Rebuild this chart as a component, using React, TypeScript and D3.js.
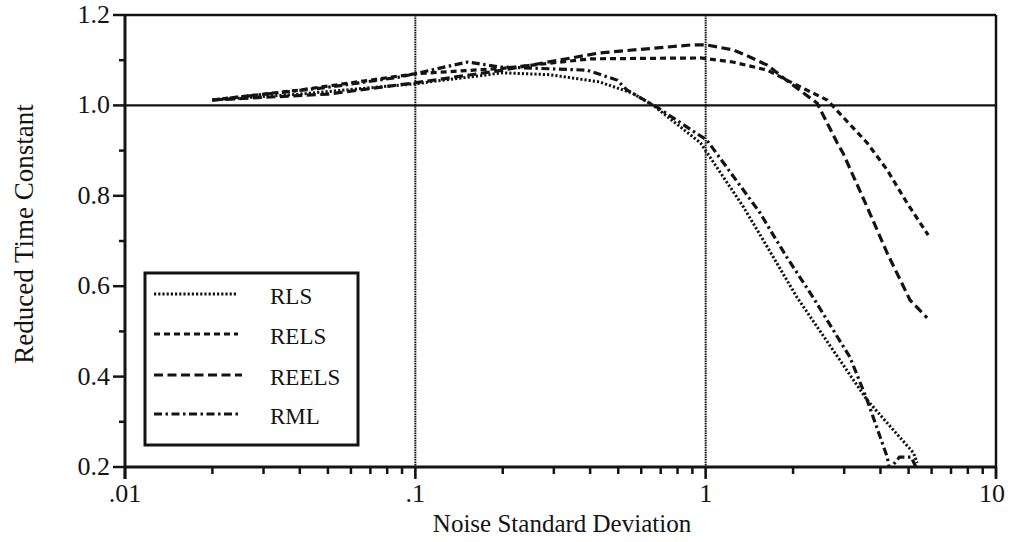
import React from "react";
import * as d3 from "d3";

const seriesNames = ["RLS", "RELS", "REELS", "RML"];

const rlsData: [number, number][] = [
  [0.02, 1.012], [0.04, 1.025], [0.1, 1.048], [0.15, 1.062], [0.2, 1.072],
  [0.29, 1.068], [0.43, 1.052], [0.56, 1.027], [0.66, 1.0], [0.96, 0.917],
  [1.35, 0.775], [1.63, 0.687], [2.06, 0.576], [3.6, 0.348], [5.2, 0.231], [5.35, 0.209],
];
const relsData: [number, number][] = [
  [0.02, 1.012], [0.04, 1.034], [0.1, 1.07], [0.2, 1.082], [0.4, 1.103],
  [0.96, 1.105], [1.24, 1.096], [1.63, 1.078], [1.9, 1.056], [2.62, 1.012],
  [3.6, 0.917], [4.22, 0.857], [4.94, 0.784], [5.84, 0.713],
];
const reelsData: [number, number][] = [
  [0.02, 1.012], [0.05, 1.025], [0.1, 1.05], [0.2, 1.078], [0.43, 1.116],
  [0.9, 1.134], [1.0, 1.134], [1.24, 1.123], [1.42, 1.107], [1.63, 1.089],
  [1.95, 1.05], [2.42, 1.005], [2.84, 0.917], [2.97, 0.895], [3.6, 0.775],
  [4.22, 0.673], [5.06, 0.569], [5.79, 0.53],
];
const rmlData: [number, number][] = [
  [0.02, 1.012], [0.05, 1.04], [0.089, 1.063], [0.151, 1.096], [0.196, 1.085],
  [0.39, 1.078], [0.495, 1.056], [0.536, 1.034], [0.68, 0.996], [1.01, 0.923],
  [1.54, 0.762], [1.67, 0.724], [1.9, 0.665], [2.34, 0.576], [3.14, 0.443],
  [3.6, 0.348], [4.22, 0.222], [4.3, 0.195], [4.65, 0.222], [5.1, 0.222], [5.3, 0.2],
];

const xMajorTicks = [0.01, 0.1, 1, 10];
const xMajorLabels = [".01", ".1", "1", "10"];
const yMajorTicks = [0.2, 0.4, 0.6, 0.8, 1.0, 1.2];
const yMinorTicks = [0.3, 0.5, 0.7, 0.9, 1.1];
const xGridLines = [0.1, 1];
const yGridLines = [1.0];

const W = 1010;
const H = 542;
const left = 125;
const right = 996;
const top = 15;
const bottom = 467;

const dashes = ["2.2,2", "6,4", "9,4.5", "8,3.5,2.5,3.5"];
const widths = [3, 3.2, 3.2, 3.2];

export default function App() {
  const x = d3.scaleLog().domain([0.01, 10]).range([left, right]);
  const y = d3.scaleLinear().domain([0.2, 1.2]).range([bottom, top]);
  const line = d3
    .line<[number, number]>()
    .x((d) => x(d[0]))
    .y((d) => y(d[1]));
  const all = [rlsData, relsData, reelsData, rmlData];

  const xMinor: number[] = [];
  [0.01, 0.1, 1].forEach((dec) => {
    for (let k = 2; k <= 9; k++) xMinor.push(dec * k);
  });

  const font = "'Liberation Serif', 'Times New Roman', serif";
  const ink = "#141414";

  const legX = 145;
  const legY = 273;
  const legW = 213;
  const legH = 172;
  const rowYs = [294, 334, 375, 414];

  return (
    <svg
      width={W}
      height={H}
      style={{ position: "absolute", left: 0, top: 0, background: "#fff" }}
      fontFamily={font}
    >
      <defs>
        <clipPath id="plotClip">
          <rect x={left} y={top} width={right - left} height={bottom - top} />
        </clipPath>
      </defs>
      <rect x={0} y={0} width={W} height={H} fill="#fff" />

      {/* grid lines */}
      {xGridLines.map((g) => (
        <line key={"gx" + g} x1={x(g)} x2={x(g)} y1={top} y2={bottom + 11}
          stroke={ink} strokeWidth={2} strokeDasharray="1.6,0.8" />
      ))}
      {yGridLines.map((g) => (
        <line key={"gy" + g} x1={left} x2={right} y1={y(g)} y2={y(g)}
          stroke={ink} strokeWidth={2.4} />
      ))}

      {/* frame */}
      <line x1={left} x2={right} y1={top} y2={top} stroke={ink} strokeWidth={2.5} />
      <line x1={right} x2={right} y1={top} y2={bottom + 11} stroke={ink} strokeWidth={2.5} />
      <line x1={left} x2={left} y1={top} y2={bottom + 12} stroke={ink} strokeWidth={3} />
      <line x1={left} x2={right} y1={bottom} y2={bottom} stroke={ink} strokeWidth={3} />

      {/* y ticks */}
      {yMajorTicks.map((t) => (
        <g key={"ym" + t}>
          <line x1={left - 12} x2={left} y1={y(t)} y2={y(t)} stroke={ink} strokeWidth={2.5} />
          <text x={110} y={y(t) + 8} textAnchor="end" fontSize={26} fill={ink}>
            {t.toFixed(1)}
          </text>
        </g>
      ))}
      {yMinorTicks.map((t) => (
        <line key={"yn" + t} x1={left - 6} x2={left} y1={y(t)} y2={y(t)} stroke={ink} strokeWidth={2.5} />
      ))}

      {/* x ticks */}
      {xMajorTicks.map((t, i) => (
        <g key={"xm" + t}>
          <line x1={x(t)} x2={x(t)} y1={bottom} y2={bottom + 12} stroke={ink} strokeWidth={2.5} />
          <text x={x(t) - (i === 3 ? 4 : 0)} y={502} textAnchor="middle" fontSize={26} fill={ink}>
            {xMajorLabels[i]}
          </text>
        </g>
      ))}
      {xMinor.map((t) => (
        <line key={"xn" + t} x1={x(t)} x2={x(t)} y1={bottom} y2={bottom + 7} stroke={ink} strokeWidth={2.5} />
      ))}

      {/* axis titles */}
      <text x={562} y={532} textAnchor="middle" fontSize={25} fill={ink}>
        Noise Standard Deviation
      </text>
      <text
        transform={`translate(33, 234) rotate(-90)`}
        textAnchor="middle"
        fontSize={27}
        fill={ink}
      >
        Reduced Time Constant
      </text>

      {/* series */}
      <g clipPath="url(#plotClip)">
        {all.map((d, i) => (
          <path key={seriesNames[i]} d={line(d) || ""} fill="none" stroke={ink}
            strokeWidth={widths[i]} strokeDasharray={dashes[i]} />
        ))}
      </g>

      {/* legend */}
      <rect x={legX} y={legY} width={legW} height={legH} fill="#fff" stroke={ink} strokeWidth={3} />
      {seriesNames.map((n, i) => (
        <g key={"leg" + n}>
          <line x1={154} x2={i === 2 ? 242 : 238} y1={rowYs[i]} y2={rowYs[i]} stroke={ink}
            strokeWidth={widths[i]} strokeDasharray={dashes[i]} />
          <text x={270} y={rowYs[i] + 10} fontSize={23} fill={ink}>
            {n}
          </text>
        </g>
      ))}
    </svg>
  );
}
